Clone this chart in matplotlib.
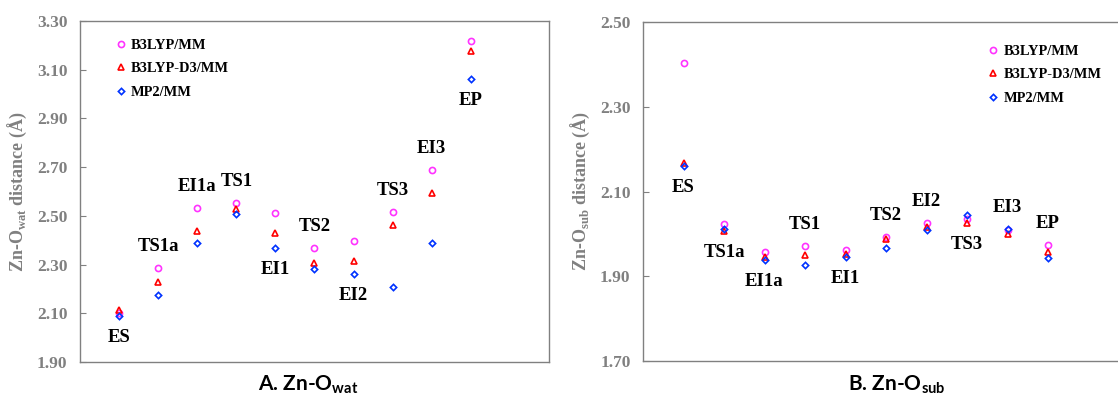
import matplotlib
matplotlib.use("Agg")
import matplotlib.pyplot as plt

plt.rcParams['mathtext.fontset'] = 'custom'
plt.rcParams['mathtext.rm'] = 'Liberation Serif:bold'
plt.rcParams['mathtext.sf'] = 'Lato:bold'

# states along the path
states = ["ES", "TS1a", "EI1a", "TS1", "EI1", "TS2", "EI2", "TS3", "EI3", "EP"]
methods = ["B3LYP/MM", "B3LYP-D3/MM", "MP2/MM"]

# A. Zn-O(wat)
wat_b3lyp = [2.100, 2.286, 2.532, 2.552, 2.512, 2.367, 2.396, 2.517, 2.688, 3.219]
wat_d3 = [2.115, 2.227, 2.439, 2.527, 2.430, 2.305, 2.316, 2.464, 2.593, 3.178]
wat_mp2 = [2.089, 2.175, 2.390, 2.508, 2.369, 2.282, 2.261, 2.207, 2.388, 3.061]
wat_side = ["below", "above", "above", "above", "below", "above", "below", "above", "above", "below"]

# B. Zn-O(sub)
sub_b3lyp = [2.403, 2.023, 1.957, 1.971, 1.961, 1.992, 2.026, 2.035, 2.009, 1.974]
sub_d3 = [2.167, 2.006, 1.946, 1.950, 1.952, 1.988, 2.017, 2.025, 1.999, 1.958]
sub_mp2 = [2.160, 2.011, 1.938, 1.926, 1.945, 1.967, 2.008, 2.045, 2.011, 1.943]
sub_side = ["below", "below", "below", "above", "below", "above", "above", "below", "above", "above"]

styles = [("o", "#ff33ff"), ("^", "#ff0000"), ("D", "#0033ff")]
spine_col = "#808080"
tick_col = "#808080"

fig = plt.figure(figsize=(11.18, 4.03), dpi=100)
ax1 = fig.add_axes([80/1118, 1-362/403, 469/1118, 341/403])
ax2 = fig.add_axes([643/1118, 1-361/403, 486/1118, 339/403])


def draw(ax, series, sides, ylim, yticks, ylabel, leg_anchor):
    x = list(range(1, len(states) + 1))
    for vals, name, (m, c) in zip(series, methods, styles):
        ms = 4.4 if m != "D" else 3.2
        ax.plot(x, vals, linestyle="none", marker=m, markersize=ms,
                markerfacecolor="none", markeredgecolor=c, markeredgewidth=1.2,
                label=name)
    for i, s in enumerate(states):
        group = [v[i] for v in series]
        if sides[i] == "above":
            y, dy = max(group), 15.5
        else:
            y, dy = min(group), -15.5
        ax.annotate(s, (x[i], y), xytext=(0, dy), textcoords="offset points",
                    ha="center", va="center", fontsize=13.5, fontweight="bold",
                    family="Liberation Serif")
    ax.set_xlim(0, 12)
    ax.set_ylim(*ylim)
    ax.set_yticks(yticks)
    ax.set_yticklabels(["%.2f" % t for t in yticks])
    ax.set_xticks([])
    ax.tick_params(axis="y", direction="in", length=4, color=spine_col, pad=9,
                   labelsize=12.5, labelcolor=tick_col)
    for lab in ax.get_yticklabels():
        lab.set_family("Liberation Serif")
        lab.set_fontweight("bold")
    for sp in ax.spines.values():
        sp.set_color(spine_col)
        sp.set_linewidth(1.0)
    ax.set_ylabel(ylabel, fontsize=13, fontweight="bold", color=tick_col,
                  family="Liberation Serif", labelpad=6)
    leg = ax.legend(loc="upper left", bbox_to_anchor=leg_anchor, frameon=False,
                    handlelength=0.6, handletextpad=0.4, labelspacing=0.72,
                    borderaxespad=0,
                    prop={"family": "Liberation Serif", "weight": "bold", "size": 10.4})
    return leg


draw(ax1, [wat_b3lyp, wat_d3, wat_mp2], wat_side, (1.90, 3.30),
     [1.90, 2.10, 2.30, 2.50, 2.70, 2.90, 3.10, 3.30],
     "Zn-O$_{\\mathrm{wat}}$ distance (Å)", (0.065, 0.965))
draw(ax2, [sub_b3lyp, sub_d3, sub_mp2], sub_side, (1.70, 2.50),
     [1.70, 1.90, 2.10, 2.30, 2.50],
     "Zn-O$_{\\mathrm{sub}}$ distance (Å)", (0.7, 0.95))

fig.text(308/1118, 1-385/403, "A. Zn-O$_{\\mathsf{wat}}$", ha="center", va="center",
         fontsize=15, fontweight="bold", family="Lato")
fig.text(897/1118, 1-385/403, "B. Zn-O$_{\\mathsf{sub}}$", ha="center", va="center",
         fontsize=15, fontweight="bold", family="Lato")

fig.savefig("out.png", dpi=100)
